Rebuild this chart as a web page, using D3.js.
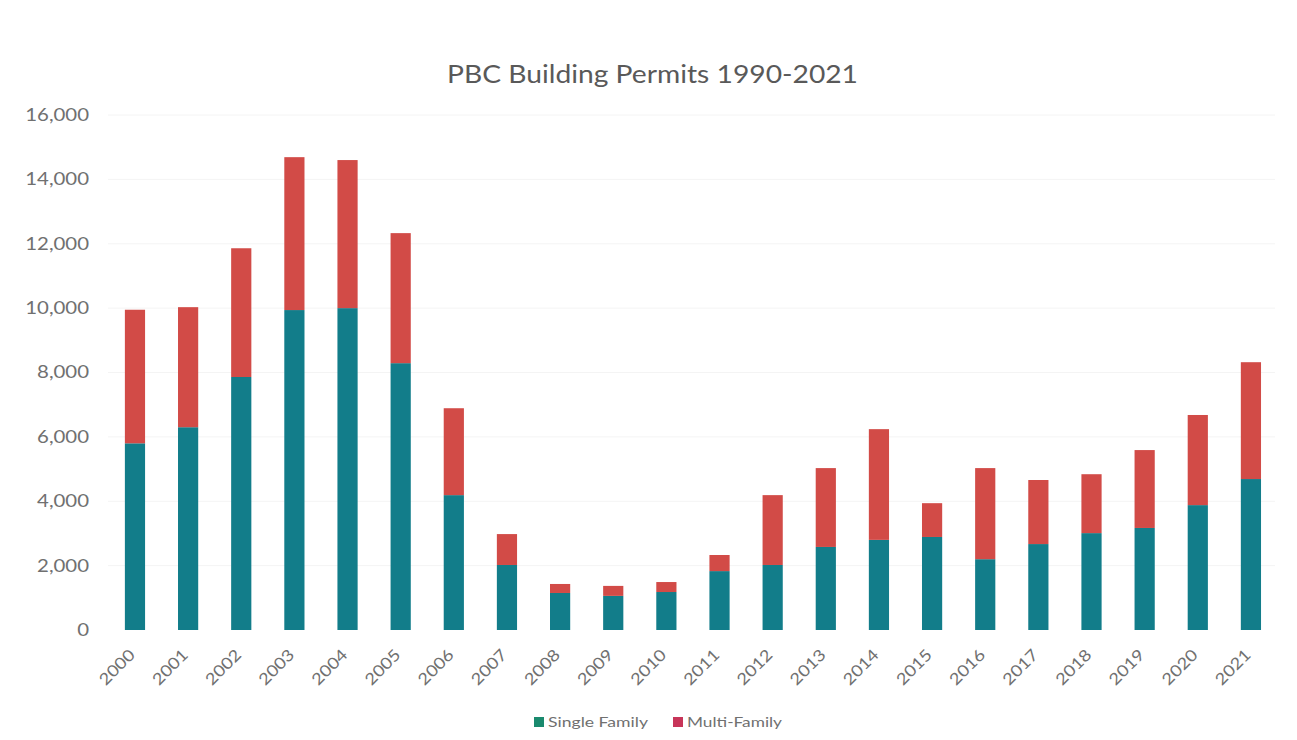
<!DOCTYPE html>
<html>
<head>
<meta charset="utf-8">
<script src="https://cdn.jsdelivr.net/npm/d3@7"></script>
<style>
  html, body { margin: 0; padding: 0; background: #fff; }
  svg { display: block; }
</style>
</head>
<body>
<svg id="chart" width="1297" height="740"></svg>
<script>
const years = ["2000","2001","2002","2003","2004","2005","2006","2007","2008","2009","2010","2011","2012","2013","2014","2015","2016","2017","2018","2019","2020","2021"];
const singleFamily = [5800,6300,7860,9940,10000,8290,4190,2020,1150,1060,1180,1830,2020,2580,2800,2890,2200,2670,3010,3170,3880,4690];
const multiFamily  = [4150,3730,4000,4750,4600,4040,2700,960,280,310,310,500,2170,2450,3440,1050,2830,1990,1830,2420,2800,3630];
const yTicks = [0,2000,4000,6000,8000,10000,12000,14000,16000];
const seriesNames = ["Single Family","Multi-Family"];
const colors = ["#127d8a","#d24b47"];
const legendColors = ["#1a8a6e","#c73559"];

const svg = d3.select("#chart");
const font = "Lato, 'Open Sans', sans-serif";
const labelColor = "#707070";

const x = d3.scaleBand().domain(years).range([108.4, 1277.5]).paddingInner(0.62).paddingOuter(0.31);
const y = d3.scaleLinear().domain([0,16000]).range([630,115]);

// gridlines (very faint)
svg.append("g").selectAll("line").data(yTicks.slice(1)).join("line")
  .attr("x1", 108).attr("x2", 1275)
  .attr("y1", d => y(d)).attr("y2", d => y(d))
  .attr("stroke", "#f4f4f4").attr("stroke-width", 1);

// title
svg.append("text").attr("x", 447).attr("y", 83)
  .attr("font-family", font).attr("font-size", 25).attr("fill","#595959")
  .attr("textLength", 411).attr("lengthAdjust", "spacingAndGlyphs")
  .text("PBC Building Permits 1990-2021");

// y axis
const yAxis = d3.axisLeft(y).tickValues(yTicks).tickSize(0).tickPadding(0).tickFormat(d3.format(","));
const gy = svg.append("g").attr("transform","translate(89,0)").call(yAxis);
gy.select(".domain").remove();
gy.selectAll("text").attr("font-family", font).attr("font-size", 17).attr("fill", labelColor)
  .attr("x", 0).attr("transform", "scale(1.2,1)");

// x axis
const xAxis = d3.axisBottom(x).tickSize(0).tickPadding(0);
const gx = svg.append("g").attr("transform","translate(0,640)").call(xAxis);
gx.select(".domain").remove();
gx.selectAll("text")
  .attr("font-family", font).attr("font-size", 16).attr("fill", labelColor)
  .attr("text-anchor","end").attr("x", 0).attr("y", 0).attr("dy","0.35em")
  .attr("transform","translate(-3,12) rotate(-45) scale(1.15,1)");

// stacked bars
const data = years.map((yr,i) => ({year: yr, sf: singleFamily[i], mf: multiFamily[i]}));
const stack = d3.stack().keys(["sf","mf"])(data);
svg.append("g").selectAll("g").data(stack).join("g")
  .attr("fill", (d,i) => colors[i])
  .selectAll("rect").data(d => d).join("rect")
  .attr("x", d => x(d.data.year))
  .attr("width", x.bandwidth())
  .attr("y", d => y(d[1]))
  .attr("height", d => y(d[0]) - y(d[1]));

// legend
const legend = svg.append("g");
const items = [{x: 534, w: 100, name: seriesNames[0], c: legendColors[0]}, {x: 673, w: 95, name: seriesNames[1], c: legendColors[1]}];
items.forEach(it => {
  legend.append("rect").attr("x", it.x).attr("y", 717).attr("width", 10).attr("height", 10).attr("fill", it.c);
  legend.append("text").attr("x", it.x + 14).attr("y", 727)
    .attr("font-family", font).attr("font-size", 14).attr("fill", labelColor)
    .attr("textLength", it.w).attr("lengthAdjust", "spacingAndGlyphs").text(it.name);
});
</script>
</body>
</html>
